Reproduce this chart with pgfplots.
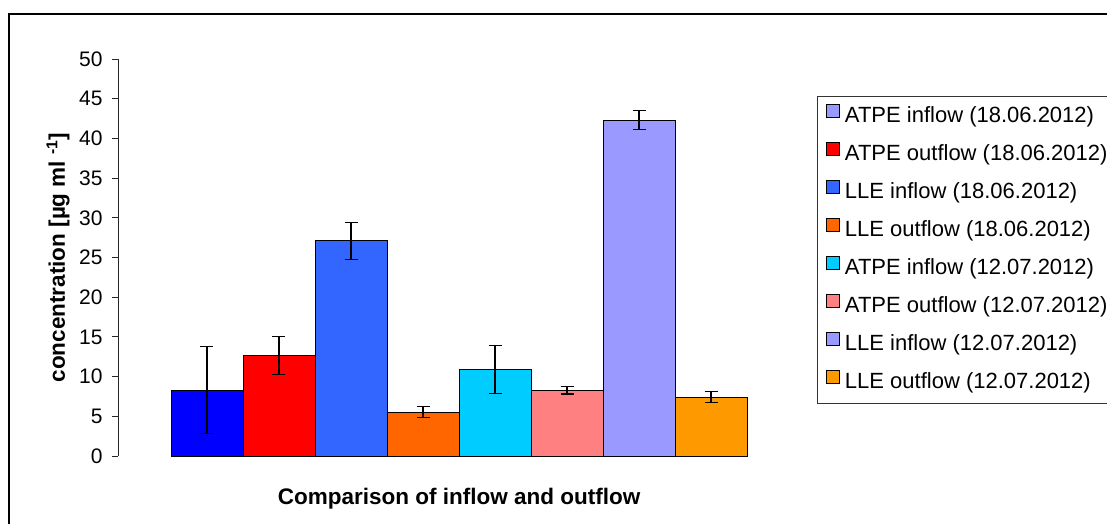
\documentclass[border=0pt]{standalone}
\usepackage{fontspec}
\setmainfont{Liberation Sans}
\usepackage{pgfplots}
\pgfplotsset{compat=1.18}

\definecolor{cA}{HTML}{0000FF}
\definecolor{cB}{HTML}{FF0000}
\definecolor{cC}{HTML}{3366FF}
\definecolor{cD}{HTML}{FF6600}
\definecolor{cE}{HTML}{00CCFF}
\definecolor{cF}{HTML}{FF8080}
\definecolor{cG}{HTML}{9999FF}
\definecolor{cH}{HTML}{FF9900}

\pgfplotsset{
    barstyle/.style = {
        ybar, bar width = 1, bar shift = 0pt,
        draw = black, line width = 0.8pt, fill = #1,
        legend image code/.code = {\draw[fill = #1, draw = black, line width = 0.8pt] (0pt,-1pt) rectangle (13pt,12pt);},
        error bars/y dir = both,
        error bars/y explicit,
        error bars/error bar style = {black, line width = 1.2pt},
        error bars/error mark options = {black, rotate = 90, mark size = 6.5pt, line width = 1.2pt}
    }
}

\begin{document}
\begin{tikzpicture}
\useasboundingbox (0,0) rectangle (1107pt,524pt);
\clip (0,0) rectangle (1107pt,524pt);
\draw[line width = 1.5pt] (9pt,-10pt) rectangle (1130pt,510pt);

\begin{axis}[
    at = {(118pt,68pt)}, anchor = south west,
    scale only axis,
    width = 682pt, height = 397pt,
    xmin = -0.236, xmax = 9.236,
    ymin = 0, ymax = 50,
    ytick distance = 5,
    xtick = \empty,
    axis lines* = left,
    x axis line style = {draw = none},
    y axis line style = {line width = 0.8pt, black!85},
    major tick length = 6pt,
    tick align = outside,
    ytick style = {line width = 0.8pt, black!85},
    /pgf/number format/assume math mode = true,
    tick label style = {font = \fontsize{21}{25}\selectfont},
    yticklabel style = {xshift = -6pt},
    xlabel = {Comparison of inflow and outflow},
    ylabel = {concentration [µg ml \textsuperscript{-1}]},
    label style = {font = \bfseries\fontsize{22.5}{27}\selectfont},
    xlabel style = {at = {(axis description cs:0.5,0)}, anchor = center, yshift = -43pt},
    ylabel style = {at = {(axis description cs:-0.088,0.5)}, anchor = center},
    clip = false,
    legend cell align = left,
    legend style = {
        name = lgd,
        at = {(axis description cs:1.0249,0.9068)}, anchor = north west,
        draw = none,
        inner xsep = 9pt, inner ysep = 8pt,
        row sep = 13pt,
        font = \fontsize{22}{26}\selectfont,
        nodes = {inner sep = 2pt, text height = 16pt, text depth = 5pt},
        /tikz/every odd column/.append style = {column sep = 3pt}
    }
]

\addplot[barstyle = cA, legend image code/.code = {\draw[fill = cG, draw = black, line width = 0.8pt] (0pt,-1pt) rectangle (13pt,12pt);}]
    coordinates {(1, 8.3) +- (0, 5.5)};
\addlegendentry{ATPE inflow (18.06.2012)}

\addplot[barstyle = cB]
    coordinates {(2, 12.7) +- (0, 2.4)};
\addlegendentry{ATPE outflow (18.06.2012)}

\addplot[barstyle = cC]
    coordinates {(3, 27.1) +- (0, 2.35)};
\addlegendentry{LLE inflow (18.06.2012)}

\addplot[barstyle = cD]
    coordinates {(4, 5.55) +- (0, 0.7)};
\addlegendentry{LLE outflow (18.06.2012)}

\addplot[barstyle = cE]
    coordinates {(5, 10.9) +- (0, 3.0)};
\addlegendentry{ATPE inflow (12.07.2012)}

\addplot[barstyle = cF]
    coordinates {(6, 8.3) +- (0, 0.48)};
\addlegendentry{ATPE outflow (12.07.2012)}

\addplot[barstyle = cG]
    coordinates {(7, 42.3) +- (0, 1.2)};
\addlegendentry{LLE inflow (12.07.2012)}

\addplot[barstyle = cH]
    coordinates {(8, 7.4) +- (0, 0.7)};
\addlegendentry{LLE outflow (12.07.2012)}

\end{axis}
\draw[black!80, line width = 0.6pt] (lgd.south west) rectangle ([xshift = 40pt]lgd.north east);
\end{tikzpicture}
\end{document}
